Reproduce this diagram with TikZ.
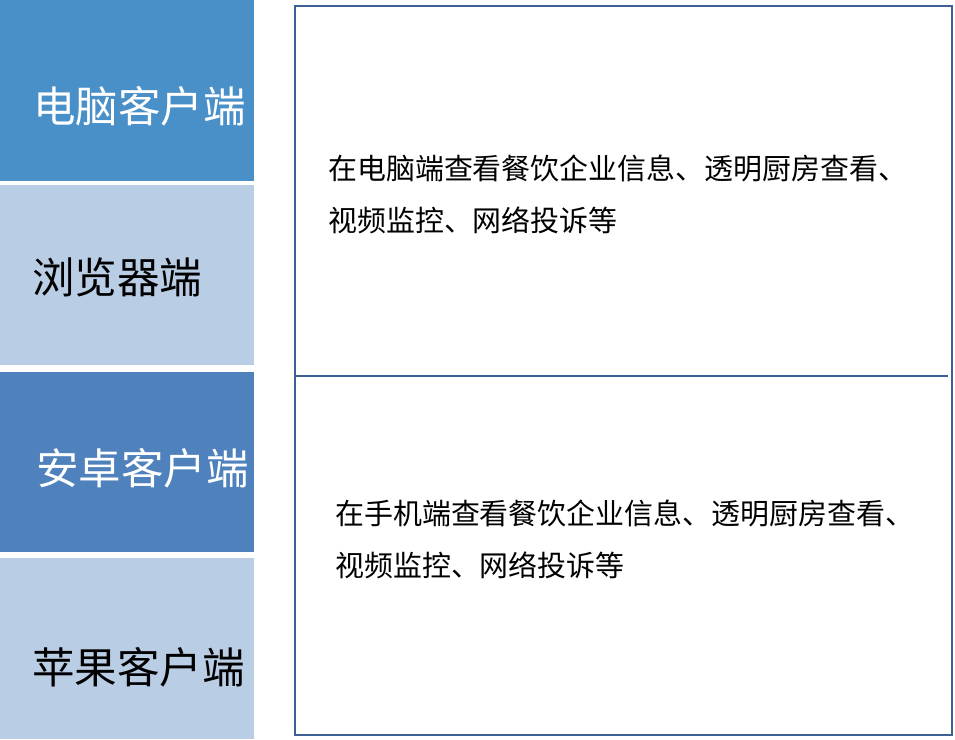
\documentclass[tikz,border=0pt]{standalone}
\usepackage{fontspec}
\setmainfont{Noto Sans CJK SC}
\definecolor{pcblue}{RGB}{74,144,200}
\definecolor{andblue}{RGB}{79,129,189}
\definecolor{paleblue}{RGB}{185,205,229}
\definecolor{framecol}{RGB}{62,96,146}
\begin{document}
\begin{tikzpicture}[
        x=0.75pt,y=-0.75pt,
        block/.style={draw=none,inner sep=0pt,anchor=north west,minimum width=190.5pt},
        label/.style={anchor=west,inner sep=0pt,font=\fontsize{31.9}{36}\selectfont},
        desc/.style={anchor=west,inner sep=0pt,align=left,font=\fontsize{21.7}{39}\selectfont},
        frame/.style={draw=framecol,line width=1.5pt}
    ]
        \useasboundingbox (0,0) rectangle (955,739);

        % Left column
        \node[block,fill=pcblue,minimum height=135.75pt] (pc) at (0,0) {};
        \node[block,fill=paleblue,minimum height=135pt] (web) at (0,185) {};
        \node[block,fill=andblue,minimum height=135pt] (android) at (0,372) {};
        \node[block,fill=paleblue,minimum height=135.75pt] (apple) at (0,558) {};

        \node[label,text=white] (pclabel) at (33,106) {电脑客户端};
        \node[label] (weblabel) at (32,277) {浏览器端};
        \node[label,text=white] (androidlabel) at (36,468) {安卓客户端};
        \node[label] (applelabel) at (32,667) {苹果客户端};

        % Right frame
        \coordinate (tl) at (295,6);
        \coordinate (br) at (952,735);
        \coordinate (ml) at (295,376);
        \coordinate (mr) at (948,376);
        \draw[frame] (tl) rectangle (br);
        \draw[frame] (ml) -- (mr);

        \node[desc] (pcdesc) at (328,194) {在电脑端查看餐饮企业信息、透明厨房查看、\\视频监控、网络投诉等};
        \node[desc] (mobiledesc) at (335,539) {在手机端查看餐饮企业信息、透明厨房查看、\\视频监控、网络投诉等};
    \end{tikzpicture}
\end{document}
